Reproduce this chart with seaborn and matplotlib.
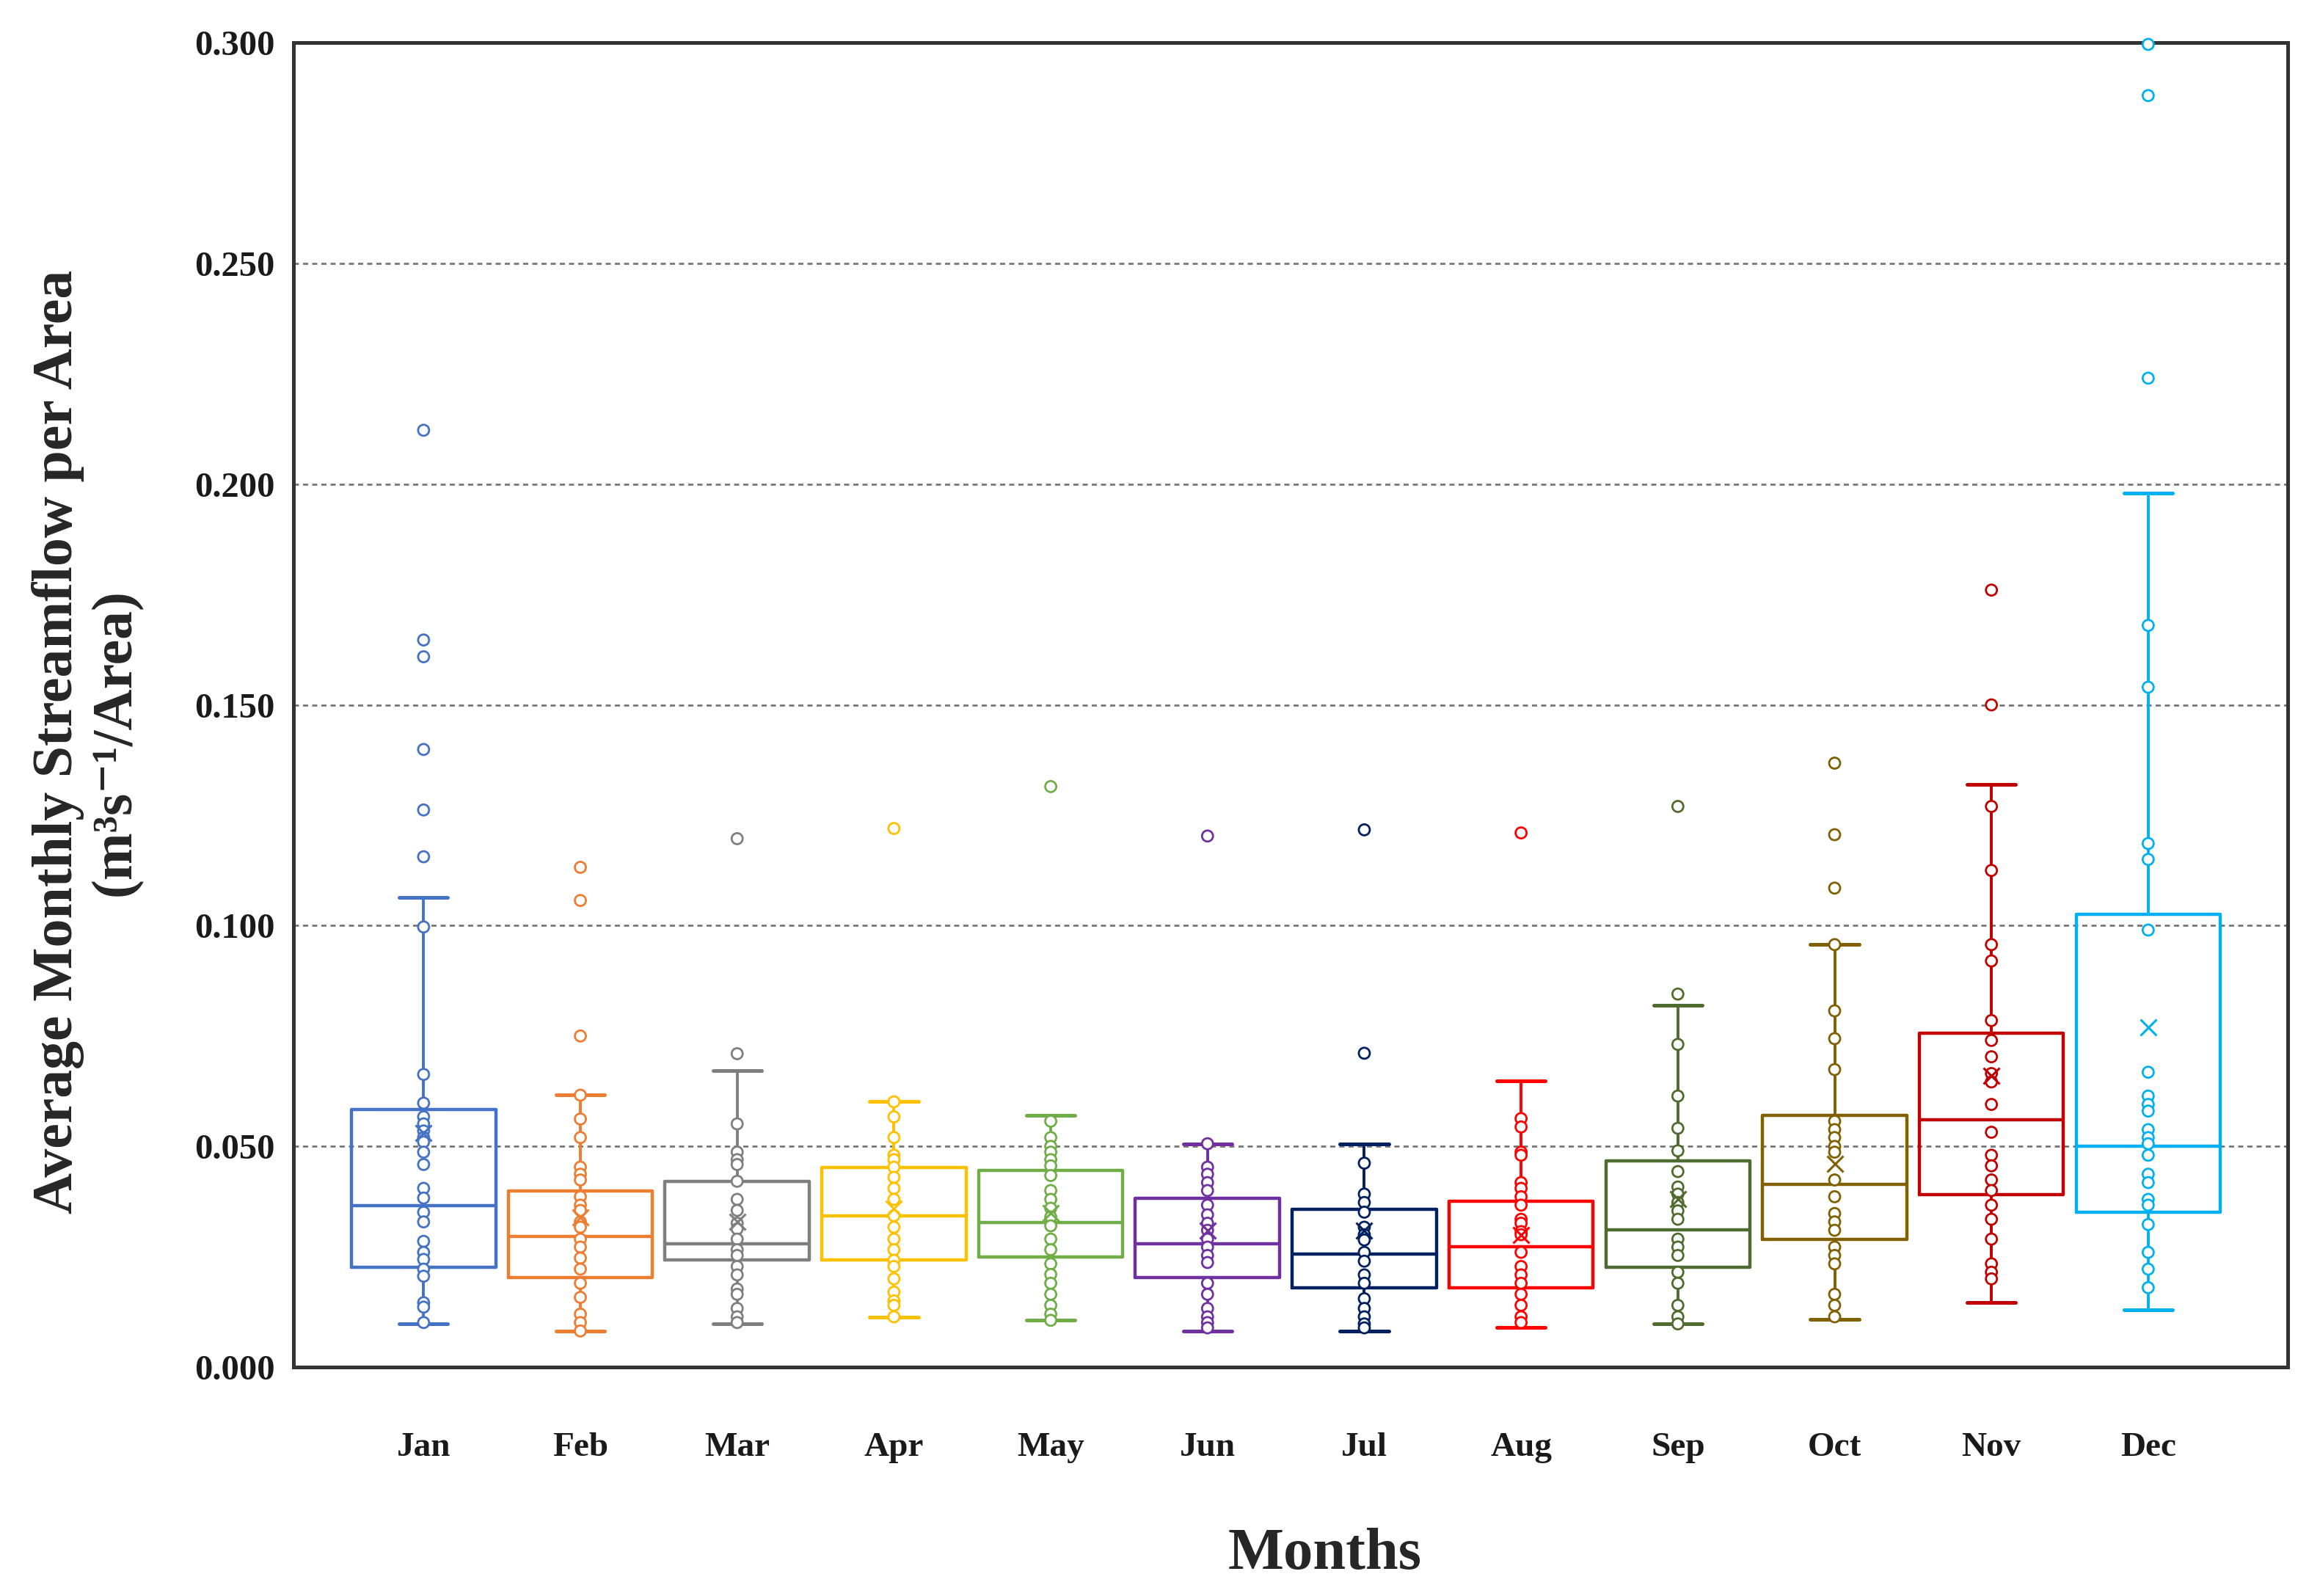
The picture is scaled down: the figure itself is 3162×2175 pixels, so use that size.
import numpy as np
import pandas as pd
import matplotlib
matplotlib.use("Agg")
import matplotlib.pyplot as plt
import seaborn as sns

months = ["Jan", "Feb", "Mar", "Apr", "May", "Jun",
          "Jul", "Aug", "Sep", "Oct", "Nov", "Dec"]

colors = ["#4472C4", "#ED7D31", "#7F7F7F", "#FFC000", "#70AD47", "#7030A0",
          "#002060", "#FF0000", "#4F6B30", "#806000", "#C00000", "#00B0F0"]

# box statistics
q1 = [0.0226, 0.0203, 0.0242, 0.0242, 0.0250, 0.0203, 0.0179, 0.0179, 0.0226, 0.0289, 0.0390, 0.0351]
median = [0.0366, 0.0296, 0.0280, 0.0343, 0.0328, 0.0280, 0.0256, 0.0273, 0.0311, 0.0414, 0.0561, 0.0500]
q3 = [0.0584, 0.0399, 0.0421, 0.0453, 0.0445, 0.0383, 0.0358, 0.0375, 0.0468, 0.0570, 0.0756, 0.1025]
whisk_lo = [0.0098, 0.0082, 0.0098, 0.0114, 0.0106, 0.0082, 0.0082, 0.0090, 0.0098, 0.0108, 0.0146, 0.0130]
whisk_hi = [0.1064, 0.0616, 0.0671, 0.0601, 0.0571, 0.0506, 0.0506, 0.0648, 0.0820, 0.0957, 0.1320, 0.1980]
mean = [0.053, 0.034, 0.033, 0.036, 0.035, 0.031, 0.031, 0.030, 0.038, 0.046, 0.066, 0.077]

# individual points (inner points + outliers)
jan = [0.2122, 0.1647, 0.1609, 0.1399, 0.1262, 0.1156, 0.0997, 0.0663, 0.0598, 0.0567, 0.0551,
       0.0535, 0.0520, 0.0510, 0.0487, 0.0459, 0.0405, 0.0383, 0.0351, 0.0329, 0.0285, 0.0260,
       0.0244, 0.0222, 0.0206, 0.0146, 0.0136, 0.0101]
feb = [0.1132, 0.1057, 0.0750, 0.0616, 0.0562, 0.0520, 0.0453, 0.0437, 0.0424, 0.0386, 0.0367,
       0.0355, 0.0329, 0.0317, 0.0290, 0.0272, 0.0247, 0.0222, 0.0190, 0.0158, 0.0120, 0.0101, 0.0082]
mar = [0.1197, 0.0710, 0.0551, 0.0487, 0.0470, 0.0459, 0.0421, 0.0380, 0.0355, 0.0326, 0.0313,
       0.0290, 0.0266, 0.0253, 0.0228, 0.0209, 0.0177, 0.0165, 0.0133, 0.0114, 0.0101]
apr = [0.1220, 0.0601, 0.0567, 0.0520, 0.0480, 0.0470, 0.0453, 0.0430, 0.0405, 0.0380, 0.0343,
       0.0317, 0.0290, 0.0266, 0.0242, 0.0228, 0.0200, 0.0170, 0.0150, 0.0140, 0.0114]
may = [0.1315, 0.0557, 0.0520, 0.0500, 0.0487, 0.0470, 0.0456, 0.0434, 0.0400, 0.0380, 0.0360,
       0.0340, 0.0320, 0.0290, 0.0266, 0.0234, 0.0210, 0.0190, 0.0165, 0.0140, 0.0120, 0.0106]
jun = [0.1203, 0.0506, 0.0453, 0.0437, 0.0418, 0.0400, 0.0367, 0.0345, 0.0326, 0.0310, 0.0290,
       0.0272, 0.0253, 0.0237, 0.0190, 0.0165, 0.0133, 0.0114, 0.0101, 0.0089]
jul = [0.1217, 0.0711, 0.0462, 0.0392, 0.0373, 0.0351, 0.0317, 0.0300, 0.0288, 0.0260, 0.0240,
       0.0209, 0.0190, 0.0155, 0.0133, 0.0114, 0.0098, 0.0089]
aug = [0.1210, 0.0563, 0.0544, 0.0487, 0.0480, 0.0418, 0.0405, 0.0386, 0.0367, 0.0335, 0.0326,
       0.0307, 0.0300, 0.0260, 0.0228, 0.0209, 0.0190, 0.0165, 0.0140, 0.0114, 0.0101]
sep = [0.1270, 0.0845, 0.0731, 0.0614, 0.0541, 0.0490, 0.0443, 0.0408, 0.0392, 0.0373, 0.0354,
       0.0335, 0.0290, 0.0272, 0.0253, 0.0215, 0.0190, 0.0140, 0.0114, 0.0098]
oct_ = [0.1368, 0.1206, 0.1085, 0.0957, 0.0807, 0.0744, 0.0674, 0.0557, 0.0538, 0.0520, 0.0500,
        0.0487, 0.0424, 0.0386, 0.0348, 0.0329, 0.0310, 0.0272, 0.0253, 0.0234, 0.0165, 0.0140, 0.0114]
nov = [0.1760, 0.1500, 0.1270, 0.1125, 0.0957, 0.0920, 0.0785, 0.0740, 0.0703, 0.0665, 0.0646,
       0.0595, 0.0532, 0.0480, 0.0456, 0.0424, 0.0400, 0.0367, 0.0335, 0.0290, 0.0234, 0.0215, 0.0200]
dec = [0.2996, 0.2880, 0.2240, 0.1680, 0.1540, 0.1186, 0.1150, 0.0990, 0.0668, 0.0614, 0.0595,
       0.0580, 0.0538, 0.0520, 0.0506, 0.0480, 0.0437, 0.0418, 0.0380, 0.0367, 0.0323, 0.0260,
       0.0222, 0.0180]

points = [jan, feb, mar, apr, may, jun, jul, aug, sep, oct_, nov, dec]
y_ticks = [0.0, 0.05, 0.10, 0.15, 0.20, 0.25, 0.30]

df = pd.DataFrame({
    "month": [m for m, p in zip(months, points) for _ in p],
    "value": [v for p in points for v in p],
})

sns.set_theme(style="white")
plt.rcParams["font.family"] = ["Liberation Serif", "DejaVu Serif"]
plt.rcParams["font.weight"] = "bold"

fig = plt.figure(figsize=(15.81, 10.875), dpi=200)
ax = fig.add_axes([0.1265, 0.1434, 0.8596, 0.8299])

# points first (hollow circles on the month centre line)
sns.stripplot(data=df, x="month", y="value", hue="month", order=months,
              hue_order=months, palette=colors, jitter=False, size=5.4,
              legend=False, ax=ax)
for coll in ax.collections:
    fc = coll.get_facecolor()
    coll.set_edgecolor(fc)
    coll.set_facecolor("white")
    coll.set_linewidth(1.0)
    coll.set_zorder(4)
    coll.set_clip_on(False)

# boxes from the read statistics
for i, m in enumerate(months):
    c = colors[i]
    stat = {"med": median[i], "q1": q1[i], "q3": q3[i],
            "whislo": whisk_lo[i], "whishi": whisk_hi[i],
            "mean": mean[i], "fliers": [], "label": m}
    ax.bxp([stat], positions=[i], widths=0.92, showmeans=True,
           showfliers=False, manage_ticks=False, capwidths=[0.31],
           boxprops=dict(color=c, linewidth=1.6),
           medianprops=dict(color=c, linewidth=1.6),
           whiskerprops=dict(color=c, linewidth=1.4),
           capprops=dict(color=c, linewidth=1.8),
           meanprops=dict(marker="x", markeredgecolor=c, markersize=8,
                          markeredgewidth=1.1, zorder=5))

ax.set_xlim(-0.83, 11.89)
ax.set_ylim(0, 0.3)
ax.set_xticks(range(12))
ax.set_xticklabels(months, fontsize=17, fontweight="bold")
ax.set_yticks(y_ticks)
ax.set_yticklabels([f"{t:.3f}" for t in y_ticks], fontsize=17.5, fontweight="bold")
ax.tick_params(axis="x", length=0, pad=32, colors="#1a1a1a")
ax.tick_params(axis="y", length=0, pad=9, colors="#1a1a1a")
ax.set_xlabel("")
ax.set_ylabel("")

ax.yaxis.grid(True, linestyle=(0, (2.5, 2)), color="#777777", linewidth=1.0)
ax.xaxis.grid(False)
ax.set_axisbelow(True)
for s in ax.spines.values():
    s.set_visible(True)
    s.set_color("#333333")
    s.set_linewidth(1.8)

fig.text(0.571, 0.026, "Months", ha="center", va="center",
         fontsize=29, fontweight="bold")
fig.text(0.0375, 0.535, "Average Monthly Streamflow per Area\n(m³s⁻¹/Area)",
         rotation=90, ha="center", va="center", multialignment="center",
         fontsize=28, fontweight="bold", linespacing=1.15)

fig.savefig("out.png", dpi=200)
plt.close(fig)
